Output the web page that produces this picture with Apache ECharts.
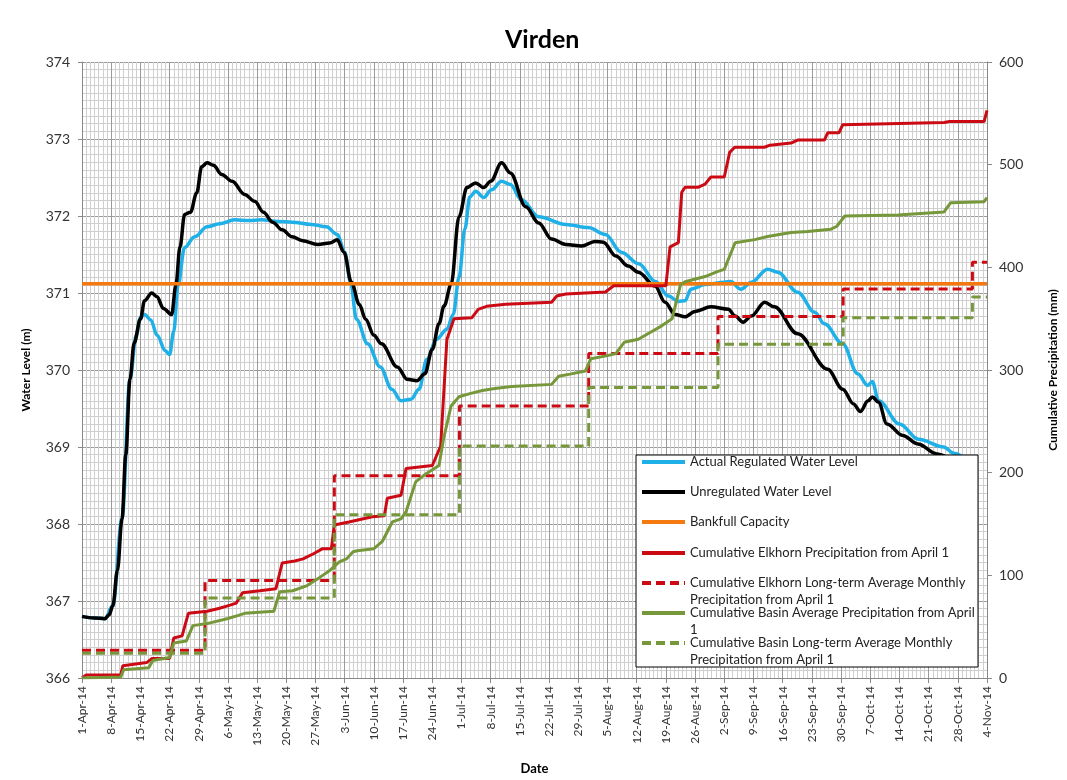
<!doctype html>
<html>
<head>
<meta charset="utf-8">
<title>Virden</title>
<script src="https://cdn.jsdelivr.net/npm/echarts@6/dist/echarts.min.js"></script>
<style>
body { margin: 0; background: #fff; }
#main { width: 1067px; height: 780px; }
</style>
</head>
<body>
<div id="main"></div>
<script>
// day 0 = 1-Apr-14, last day 217 = 4-Nov-14
var months = ['Jan','Feb','Mar','Apr','May','Jun','Jul','Aug','Sep','Oct','Nov','Dec'];

// actual regulated water level (m)
var regDays = [0,3,5.5,7.4,9.6,11.5,13,14,15,16.5,18,20,21,22,23,24.6,27,30,33,36.6,40,43,47,50.4,55,58.6,61.2,63,64.4,65.8,68.5,71.5,74.3,76.5,78.9,80.8,82.7,85,87.5,89,90.4,91.8,93,94.4,96.3,98.2,100.6,102.7,105.4,109.5,116,121.4,125.5,129.3,133.5,137.5,140.6,143,144.6,146,149.4,154,155.5,158,160.5,164.4,166.8,171.6,175.7,178,182.4,186,188.4,189.5,191,196,200.6,206.6,209,213];
var regLevel = [366.8,366.78,366.77,366.94,368.07,369.88,370.45,370.68,370.72,370.65,370.45,370.25,370.2,370.5,371.09,371.59,371.73,371.86,371.9,371.95,371.94,371.95,371.93,371.92,371.89,371.86,371.76,371.53,371.14,370.66,370.34,370.04,369.75,369.6,369.62,369.75,370.14,370.4,370.53,370.72,371.2,371.83,372.25,372.32,372.24,372.34,372.45,372.41,372.21,371.99,371.89,371.85,371.76,371.53,371.38,371.15,370.96,370.89,370.9,371.05,371.11,371.14,371.15,371.05,371.14,371.31,371.27,371.01,370.75,370.6,370.34,369.95,369.8,369.85,369.6,369.3,369.1,369.0,368.92,368.8];

// unregulated water level (m)
var unregDays = [0,3,5.5,6.5,7.4,8.5,9.6,10.5,11.5,12.5,14,15,16.7,18,19.5,21.5,22.5,23.5,24.6,26,27.5,28.7,30,31.5,33.5,36,39,41.4,43.5,45.7,48,50.4,52.9,56.5,59.4,61.2,62.8,64.6,66.5,68,70,71.8,75.6,78,80.3,82.2,84,85.6,86.8,88.5,90.4,92.3,94.4,96.3,98,100.6,102.7,106.4,109.5,112.6,116,119.8,123,125,128,131,133.4,137.4,139.8,142.2,144.6,147,150.8,155,156.6,158.5,160.5,163.7,166,171.6,178.8,182.4,185,186.6,188.5,189.5,191,193,196.8,200.4,205,209,213];
var unregLevel = [366.8,366.78,366.77,366.82,366.94,367.4,368.07,368.9,369.88,370.35,370.66,370.9,371.0,370.95,370.8,370.72,371.1,371.6,372.02,372.05,372.3,372.64,372.69,372.66,372.54,372.45,372.28,372.19,372.05,371.92,371.82,371.73,371.68,371.63,371.65,371.69,371.53,371.14,370.85,370.66,370.45,370.34,370.04,369.88,369.86,369.95,370.27,370.6,370.83,371.11,371.99,372.37,372.43,372.37,372.45,372.69,372.56,372.12,371.91,371.7,371.63,371.61,371.67,371.66,371.48,371.35,371.27,371.09,370.88,370.72,370.69,370.76,370.82,370.79,370.7,370.62,370.7,370.88,370.82,370.47,370.01,369.75,369.56,369.46,369.6,369.65,369.58,369.3,369.15,369.04,368.91,368.84,368.75];

// bankfull capacity (m)
var bankDays = [0,217];
var bankLevel = [371.12,371.12];

// cumulative Elkhorn precipitation (mm)
var elkDays = [0,1,9.3,9.8,15.5,16.8,21,22,24,25.5,30,33,35.5,37,38.5,42.6,46.5,48,51,53,55.5,57.7,59.8,60.5,64,69.6,72.5,73.2,76.5,77.7,84,86,87.5,89.2,93.5,95,97,101.6,112.6,113.8,116,125.5,127.5,140,141,143,143.8,144.6,147.7,149.4,150.8,154,155.3,156.5,163.6,165,170,171.6,178,178.8,181.5,182.4,206.7,208,216.3,217];
var elkPrecip = [0,3,3,12,15,19,19,39,41,63,65,68,71,73,83,85,87,112,114,116,121,126,126,149,152,157,158,175,178,204,207,226,330,350,351,359,362,364,366,372,374,376,382,382,420,424,473,478,478,481,488,488,512,517,517,519,521,524,524,531,531,539,541,542,542,553];

// cumulative Elkhorn long-term average monthly precipitation (mm)
var elkAvgDays = [0,29.5,60.5,90.5,121.5,152.5,182.5,213.5,217];
var elkAvgPrecip = [27,95,197,265,316,352,379,405,405];

// cumulative basin average precipitation (mm)
var basinDays = [0,9.3,10,16,17,21,22,25,26.6,30,35,37.5,39,46,47.4,50.5,54,57,59.5,61.7,63.4,65,66,70,72,74.4,76.5,77.7,80,82.5,85.6,86.7,88.5,90.4,93,96,99,103,112.6,114.3,117,120.7,122,126,128,130,133.4,136,139,141.5,143.5,144.6,149.4,152.5,154,156.6,161.3,164.4,170,174,179.5,181,182.9,195.6,206.7,208.3,216.3,217];
var basinPrecip = [0,1,8,10,17,20,34,36,51,53,58,61,63,65,84,85,90,98,105,113,116,123,124,126,133,152,155,162,191,199,207,233,265,274,277,280,282,284,286,294,296,299,311,314,316,327,330,336,343,350,383,386,391,396,398,424,427,430,434,435,437,440,450,451,454,463,464,468];

// cumulative basin long-term average monthly precipitation (mm)
var basinAvgDays = [0,29.5,60.5,90.5,121.5,152.5,182.5,213.5,217];
var basinAvgPrecip = [24,78,159,226,283,325,351,371,371];

function pairs(days, vals) {
  return days.map(function (d, i) { return [d, vals[i]]; });
}
function dayLabel(v) {
  var d = new Date(2014, 3, 1 + Math.round(v));
  return d.getDate() + '-' + months[d.getMonth()] + '-14';
}

var FONT = 'Lato';
var myChart = echarts.init(document.getElementById('main'));

var names = [
  'Actual Regulated Water Level',
  'Unregulated Water Level',
  'Bankfull Capacity',
  'Cumulative Elkhorn Precipitation from April 1',
  'Cumulative Elkhorn Long-term Average Monthly Precipitation from April 1',
  'Cumulative Basin Average Precipitation from April 1',
  'Cumulative Basin Long-term Average Monthly Precipitation from April 1'
];
// legend rows: first line shown by the legend, wrapped part drawn under it
var legendFirst = [
  names[0], names[1], names[2], names[3],
  'Cumulative Elkhorn Long-term Average Monthly',
  'Cumulative Basin Average Precipitation from April',
  'Cumulative Basin Long-term Average Monthly'
];
var legendSecond = ['', '', '', '', 'Precipitation from April 1', '1', 'Precipitation from April 1'];
var legendCenters = [462, 492, 522, 553, 583, 613, 643];

var legends = names.map(function (n, i) {
  return {
    data: [n],
    left: 640,
    top: legendCenters[i] - 8,
    padding: 0,
    itemWidth: 43,
    itemHeight: 14,
    selectedMode: false,
    z: 110,
    itemStyle: { opacity: 0 },
    lineStyle: { width: 4 },
    formatter: function () { return legendFirst[i]; },
    textStyle: { fontFamily: FONT, fontSize: 13, color: '#222', lineHeight: 16 }
  };
});

var graphics = [
  { type: 'rect', z: 100, shape: { x: 636, y: 455, width: 342, height: 212 },
    style: { fill: '#fff', stroke: '#000', lineWidth: 1 } }
];
legendSecond.forEach(function (t, i) {
  if (!t) return;
  graphics.push({
    type: 'text', z: 110, x: 690, y: legendCenters[i] + 17,
    style: { text: t, font: '13px Lato', fill: '#222', verticalAlign: 'middle' }
  });
});

var option = {
  backgroundColor: '#fff',
  animation: false,
  title: {
    text: 'Virden',
    left: 500,
    top: 22,
    textStyle: { fontFamily: FONT, fontSize: 25, fontWeight: 'bold', color: '#000' }
  },
  graphic: graphics,
  legend: legends,
  grid: { left: 82, right: 77, top: 62, bottom: 100 },
  xAxis: {
    type: 'value', min: 0, max: 217, interval: 7,
    name: 'Date', nameLocation: 'middle', nameGap: 84,
    nameTextStyle: { fontFamily: FONT, fontSize: 13, fontWeight: 'bold', color: '#000' },
    axisLine: { show: true, lineStyle: { color: '#888' } },
    axisTick: { show: true, length: 5, lineStyle: { color: '#888' } },
    axisLabel: { rotate: 90, fontFamily: FONT, fontSize: 12, color: '#333', formatter: dayLabel, margin: 8 },
    splitLine: { show: true, lineStyle: { color: '#9a9a9a', width: 1 } },
    minorTick: { show: false, splitNumber: 7 },
    minorSplitLine: { show: true, lineStyle: { color: '#cfcfcf', width: 1 } }
  },
  yAxis: [
    {
      type: 'value', min: 366, max: 374, interval: 1,
      name: 'Water Level (m)', nameLocation: 'middle', nameGap: 50, nameRotate: 90,
      nameTextStyle: { fontFamily: FONT, fontSize: 12, fontWeight: 'bold', color: '#000' },
      axisLine: { show: true, lineStyle: { color: '#888' } },
      axisTick: { show: true, length: 4, lineStyle: { color: '#888' } },
      axisLabel: { fontFamily: FONT, fontSize: 14, color: '#333', margin: 12 },
      splitLine: { show: true, lineStyle: { color: '#9a9a9a', width: 1 } },
      minorTick: { show: false, splitNumber: 10 },
      minorSplitLine: { show: true, lineStyle: { color: '#cfcfcf', width: 1 } }
    },
    {
      type: 'value', min: 0, max: 600, interval: 100, position: 'right',
      name: 'Cumulative Precipitation (mm)', nameLocation: 'middle', nameGap: 60, nameRotate: 90,
      nameTextStyle: { fontFamily: FONT, fontSize: 12, fontWeight: 'bold', color: '#000' },
      axisLine: { show: true, lineStyle: { color: '#888' } },
      axisTick: { show: true, length: 5, lineStyle: { color: '#888' } },
      axisLabel: { fontFamily: FONT, fontSize: 14, color: '#333', margin: 12 },
      splitLine: { show: false }
    }
  ],
  series: [
    { name: names[0], type: 'line', yAxisIndex: 0, symbol: 'none', smooth: 0.35, smoothMonotone: 'x',
      data: pairs(regDays, regLevel), lineStyle: { color: '#1fb0e8', width: 3.5 }, itemStyle: { color: '#1fb0e8' } },
    { name: names[1], type: 'line', yAxisIndex: 0, symbol: 'none', smooth: 0.35, smoothMonotone: 'x',
      data: pairs(unregDays, unregLevel), lineStyle: { color: '#000', width: 3.5 }, itemStyle: { color: '#000' } },
    { name: names[2], type: 'line', yAxisIndex: 0, symbol: 'none',
      data: pairs(bankDays, bankLevel), lineStyle: { color: '#f47a10', width: 3.5 }, itemStyle: { color: '#f47a10' } },
    { name: names[3], type: 'line', yAxisIndex: 1, symbol: 'none',
      data: pairs(elkDays, elkPrecip), lineStyle: { color: '#cc0a14', width: 3 }, itemStyle: { color: '#cc0a14' } },
    { name: names[4], type: 'line', yAxisIndex: 1, symbol: 'none', step: 'end',
      data: pairs(elkAvgDays, elkAvgPrecip), lineStyle: { color: '#cc0a14', width: 3, type: [9, 5] }, itemStyle: { color: '#cc0a14' } },
    { name: names[5], type: 'line', yAxisIndex: 1, symbol: 'none',
      data: pairs(basinDays, basinPrecip), lineStyle: { color: '#76973a', width: 3 }, itemStyle: { color: '#76973a' } },
    { name: names[6], type: 'line', yAxisIndex: 1, symbol: 'none', step: 'end',
      data: pairs(basinAvgDays, basinAvgPrecip), lineStyle: { color: '#76973a', width: 3, type: [9, 5] }, itemStyle: { color: '#76973a' } }
  ]
};

myChart.setOption(option);
</script>
</body>
</html>
